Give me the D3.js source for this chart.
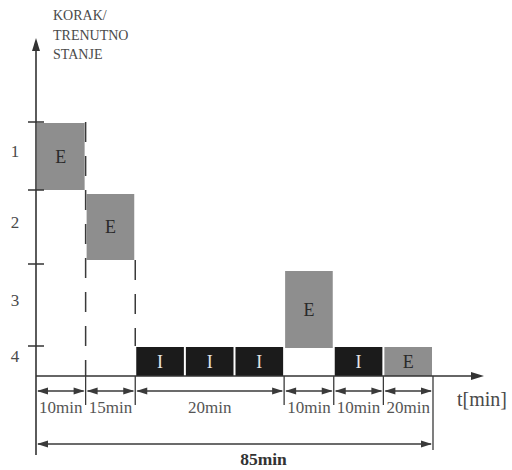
<!DOCTYPE html>
<html><head><meta charset="utf-8">
<script src="https://cdn.jsdelivr.net/npm/d3@7"></script>
<style>
html,body{margin:0;padding:0;background:#fff;}
svg{display:block;}
text{font-family:"Liberation Serif","DejaVu Serif",serif;}
</style></head>
<body>
<script>
// ---- data ----
const rowLabels = ["1","2","3","4"];
const yTitle = ["KORAK/","TRENUTNO","STANJE"];
const xTitle = "t[min]";
const segLabels = ["10min","15min","20min","10min","10min","20min"];
const segSlots = [1,1,3,1,1,1];           // schematic slots per time segment
const blockType  = ["E","E","I","I","I","E","I","E"];
const blockRow   = [1,2,4,4,4,3,4,4];
const blockStart = [0,1,2,3,4,5,6,7];
const blockEnd   = [1,2,3,4,5,6,7,8];
const totalLabel = "85min";

// ---- layout ----
const W = 512, H = 470;
const svg = d3.select("body").append("svg").attr("width", W).attr("height", H);

const x = d3.scaleLinear().domain([0, d3.sum(segSlots)]).range([36, 433]);
const y = d3.scaleLinear().domain([0,1,2,3,4]).range([376,346,264,190,122]);
const rowTop = r => y(5 - r), rowBot = r => y(4 - r);
const inset = {1:[1,0],2:[4,4],3:[7,-2],4:[1,0]};
const fill = {E:"#8e8e8e", I:"#1b1b1b"};
const tcol = {E:"#2a2a2a", I:"#e6e6e6"};
const axisCol = "#333", dimCol = "#3a3a3a", txtCol = "#4a4a4a";

// blocks
const blocks = blockType.map((t,i)=>({t, r:blockRow[i], s:blockStart[i], e:blockEnd[i]}));
const g = svg.append("g");
g.selectAll("rect.blk").data(blocks).join("rect")
  .attr("x", d => x(d.s) + 1)
  .attr("width", d => x(d.e) - x(d.s) - 2)
  .attr("y", d => rowTop(d.r) + inset[d.r][0])
  .attr("height", d => rowBot(d.r) - rowTop(d.r) - inset[d.r][0] - inset[d.r][1])
  .attr("fill", d => fill[d.t]);
g.selectAll("text.blk").data(blocks).join("text")
  .attr("x", d => (x(d.s) + x(d.e)) / 2)
  .attr("y", d => (rowTop(d.r) + inset[d.r][0] + rowBot(d.r) - inset[d.r][1]) / 2)
  .attr("dy", "0.35em")
  .attr("text-anchor", "middle")
  .attr("font-size", 18)
  .attr("fill", d => tcol[d.t])
  .text(d => d.t);

// dashed transition lines
const dashes = [
  {x: x(1), y1: y(4), y2: y(0)},
  {x: x(2), y1: rowBot(2) - inset[2][1], y2: y(1)}
];
svg.selectAll("line.dash").data(dashes).join("line")
  .attr("x1", d => d.x).attr("x2", d => d.x)
  .attr("y1", d => d.y1).attr("y2", d => d.y2)
  .attr("stroke", dimCol).attr("stroke-width", 1.5)
  .attr("stroke-dasharray", "20,14");

// y axis
const x0 = x(0), yb = y(0);
svg.append("line").attr("x1", x0).attr("x2", x0).attr("y1", 48).attr("y2", 455)
  .attr("stroke", axisCol).attr("stroke-width", 1.6);
svg.append("path").attr("d", `M${x0},38 L${x0-4},51 L${x0+4},51 Z`).attr("fill", axisCol);
svg.selectAll("line.ytick").data([1,2,3,4]).join("line")
  .attr("x1", x0 - 8).attr("x2", x0 + 8)
  .attr("y1", d => y(d)).attr("y2", d => y(d))
  .attr("stroke", axisCol).attr("stroke-width", 1.5);
svg.selectAll("text.ylab").data(rowLabels).join("text")
  .attr("x", 15)
  .attr("y", (d,i) => (rowTop(i+1) + rowBot(i+1)) / 2 - 5)
  .attr("dy", "0.35em").attr("text-anchor", "middle")
  .attr("font-size", 17).attr("fill", txtCol).text(d => d);
svg.selectAll("text.ytitle").data(yTitle).join("text")
  .attr("x", 53).attr("y", (d,i) => 20 + i * 19.5)
  .attr("font-size", 14).attr("fill", txtCol).text(d => d);

// x axis
svg.append("line").attr("x1", x0).attr("x2", 474).attr("y1", yb).attr("y2", yb)
  .attr("stroke", axisCol).attr("stroke-width", 1.6);
svg.append("path").attr("d", `M484,${yb} L471,${yb-4} L471,${yb+4} Z`).attr("fill", axisCol);
svg.append("text").attr("x", 457).attr("y", 406).attr("font-size", 20)
  .attr("fill", txtCol).text(xTitle);

// dimension lines
const bounds = [0, ...d3.cumsum(segSlots)];
const segs = segLabels.map((l,i)=>({l, a:bounds[i], b:bounds[i+1]}));
const dimY = 391;
svg.selectAll("line.btick").data(bounds.slice(1, -1)).join("line")
  .attr("x1", d => x(d)).attr("x2", d => x(d))
  .attr("y1", yb).attr("y2", 405)
  .attr("stroke", dimCol).attr("stroke-width", 1.3);
svg.append("line").attr("x1", x(bounds[bounds.length-1])).attr("x2", x(bounds[bounds.length-1]))
  .attr("y1", yb).attr("y2", 450).attr("stroke", dimCol).attr("stroke-width", 1.3);

function arrowLine(xa, xb, yy) {
  svg.append("line").attr("x1", xa + 2).attr("x2", xb - 2).attr("y1", yy).attr("y2", yy)
    .attr("stroke", dimCol).attr("stroke-width", 1.3);
  svg.append("path").attr("d", `M${xa+1},${yy} L${xa+12},${yy-3.5} L${xa+12},${yy+3.5} Z`).attr("fill", dimCol);
  svg.append("path").attr("d", `M${xb-1},${yy} L${xb-12},${yy-3.5} L${xb-12},${yy+3.5} Z`).attr("fill", dimCol);
}
segs.forEach(s => arrowLine(x(s.a), x(s.b), dimY));
svg.selectAll("text.seg").data(segs).join("text")
  .attr("x", d => (x(d.a) + x(d.b)) / 2).attr("y", 413)
  .attr("text-anchor", "middle").attr("font-size", 17)
  .attr("fill", "#555").text(d => d.l);

// total
arrowLine(x(0), x(bounds[bounds.length-1]), 444);
svg.append("text").attr("x", (x(0) + x(bounds[bounds.length-1])) / 2 + 29).attr("y", 465)
  .attr("text-anchor", "middle").attr("font-size", 17.5).attr("font-weight", "bold")
  .attr("fill", "#333").text(totalLabel);
</script>
</body></html>
